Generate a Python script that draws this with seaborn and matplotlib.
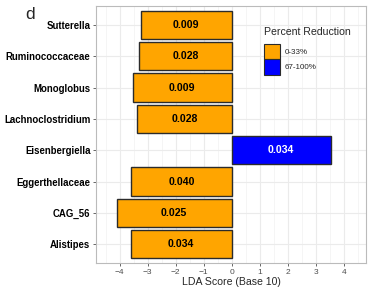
import matplotlib
matplotlib.use("Agg")
import matplotlib.pyplot as plt
import numpy as np
import pandas as pd
import seaborn as sns
from matplotlib.patches import Patch
from matplotlib.ticker import MultipleLocator

taxa = [
    "Sutterella",
    "Ruminococcaceae",
    "Monoglobus",
    "Lachnoclostridium",
    "Eisenbergiella",
    "Eggerthellaceae",
    "CAG_56",
    "Alistipes",
]
lda_scores = [-3.25, -3.31, -3.54, -3.37, 3.51, -3.58, -4.11, -3.61]
p_values = ["0.009", "0.028", "0.009", "0.028", "0.034", "0.040", "0.025", "0.034"]
reduction = ["0-33%", "0-33%", "0-33%", "0-33%", "67-100%", "0-33%", "0-33%", "0-33%"]
groups = ["0-33%", "67-100%"]
colors = {"0-33%": "#FFA500", "67-100%": "#0000FF"}

df = pd.DataFrame({"taxon": taxa, "lda": lda_scores, "p": p_values, "group": reduction})

sns.set_theme(style="white")
plt.rcParams["font.family"] = ["Liberation Sans", "DejaVu Sans"]

fig = plt.figure(figsize=(3.68, 2.9), dpi=100)
ax = fig.add_axes([0.261, 0.093, 0.734, 0.886])

sns.barplot(
    data=df,
    x="lda",
    y="taxon",
    hue="group",
    hue_order=groups,
    palette=colors,
    order=taxa,
    orient="h",
    dodge=False,
    width=0.9,
    edgecolor="#2B2B2B",
    linewidth=1.0,
    saturation=1,
    legend=False,
    ax=ax,
)

# p-value labels centred in each bar
for i, row in df.iterrows():
    txt_color = "white" if row["group"] == "67-100%" else "black"
    ax.text(row["lda"] / 2, i, row["p"], ha="center", va="center",
            fontsize=7.6, fontweight="bold", color=txt_color)

ax.set_xlim(-4.84, 4.78)
ax.set_ylim(len(taxa) - 0.4, -0.6)
ax.xaxis.set_major_locator(MultipleLocator(1))
ax.xaxis.set_minor_locator(MultipleLocator(0.5))
ax.grid(True, which="major", color="#EBEBEB", linewidth=0.8)
ax.grid(True, which="minor", axis="x", color="#F2F2F2", linewidth=0.5)
ax.set_axisbelow(True)

for side in ["top", "right", "left", "bottom"]:
    ax.spines[side].set_color("#BBBBBB")
    ax.spines[side].set_linewidth(0.8)

ax.tick_params(axis="x", labelsize=6, colors="#4D4D4D", length=2.5, width=0.6,
               bottom=True, pad=1.5)
ax.tick_params(axis="y", labelsize=6.9, length=2.5, width=0.6, left=True,
               color="#4D4D4D", pad=1.5)
for lbl in ax.get_yticklabels():
    lbl.set_fontweight("bold")
    lbl.set_color("black")

ax.set_xlabel("LDA Score (Base 10)", fontsize=7.6, labelpad=1)
ax.set_ylabel("")

handles = [Patch(facecolor=colors[g], edgecolor="#2B2B2B", linewidth=0.8, label=g) for g in groups]
leg = ax.legend(
    handles=handles,
    title="Percent Reduction",
    loc="upper left",
    bbox_to_anchor=(0.598, 0.945),
    frameon=False,
    fontsize=5.8,
    title_fontsize=7.6,
    handlelength=2.0,
    handleheight=2.5,
    handletextpad=0.6,
    labelspacing=0.1,
    borderpad=0.3,
)
leg._legend_box.align = "left"
leg._legend_box.sep = 5

fig.text(0.068, 0.935, "d", fontsize=12.5)

fig.savefig("out.png", dpi=100)
